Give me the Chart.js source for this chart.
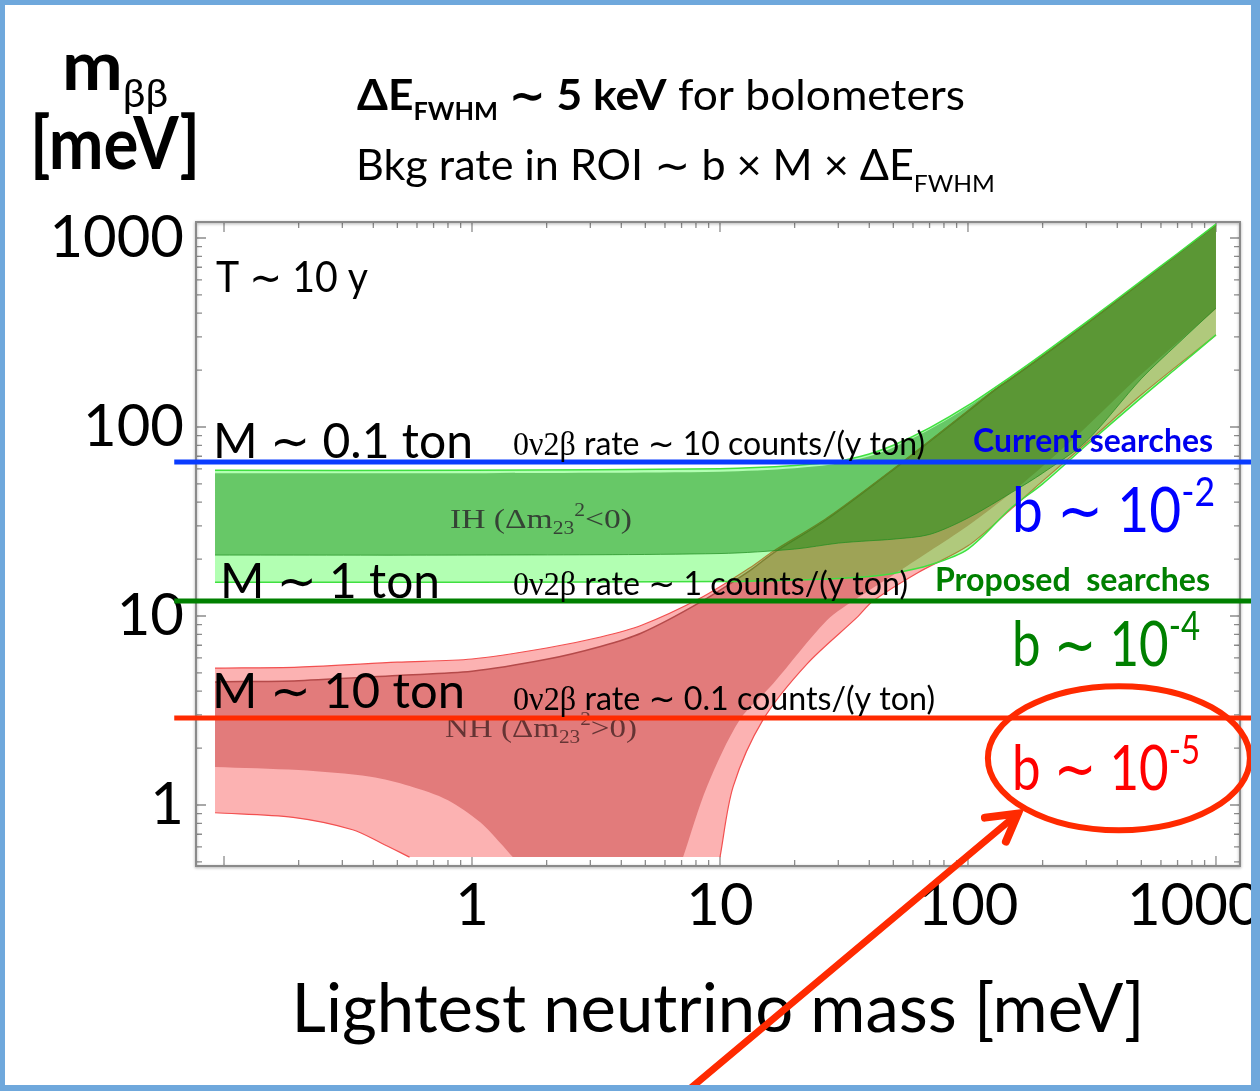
<!DOCTYPE html>
<html>
<head>
<meta charset="utf-8">
<script src="https://cdn.jsdelivr.net/npm/chart.js@4.4.1/dist/chart.umd.min.js"></script>
<style>
  html, body { margin: 0; padding: 0; background: #fff; }
  canvas { display: block; }
</style>
</head>
<body>
<canvas id="c" width="1260" height="1091"></canvas>
<script>
// m_bb [meV] vs lightest neutrino mass [meV]
const PLOT_FLOOR = 0.53; // bottom of the plotted range, bands are cut there

// inverted hierarchy (green)
const ihMass     = [0.092, 1, 10, 20, 30, 40, 50, 70, 100, 150, 200, 300, 500, 700, 1000];
const ihOuterUp  = [59, 59, 60.2, 62.5, 66, 72, 80, 99, 130, 186, 243, 359, 593, 828, 1183];
const ihInnerUp  = [57, 57, 58, 60.5, 64, 70, 78, 97, 128, 184, 241, 357, 591, 826, 1180];
const ihInnerLow = [21, 21, 21.4, 22.6, 24.3, 25, 25.5, 27, 33, 45, 57, 84, 180, 275, 426];
const ihOuterLow = [15.1, 15.1, 15.2, 15.5, 15.8, 16.2, 16.8, 18.6, 22.6, 37.5, 50, 80, 143, 207, 307];

// normal hierarchy (red)
const nhUpMass  = [0.092, 0.2, 0.5, 1, 2, 3.3, 4.8, 8.3, 13.2, 16.4, 27, 50, 100, 130, 150, 200, 300, 500, 1000];
const nhOuterUp = [5.3, 5.37, 5.7, 5.92, 6.77, 7.74, 8.9, 12.4, 18, 22, 33, 60, 122, 160, 182, 238, 352, 585, 1175];
const nhInnerUp = [4.48, 4.55, 4.85, 5.1, 5.9, 6.9, 8.1, 11.8, 17.4, 21.5, 32.5, 59.5, 121, 159, 181, 237, 351, 584, 1173];

const nhInLowMass = [0.092, 0.2, 0.39, 0.56, 0.8, 1.08, 1.3, 1.46, 7.1, 8.86, 12, 16.4, 27, 36, 50, 70, 100, 150, 200, 300, 500, 1000];
const nhInnerLow  = [1.59, 1.53, 1.41, 1.26, 1.06, 0.81, 0.63, PLOT_FLOOR, PLOT_FLOOR, 1.25, 2.82, 4.4, 9.5, 12.5, 16.5, 22, 30, 45, 62, 100, 190, 420];

const nhOutLowMass = [0.092, 0.19, 0.33, 0.43, 0.56, 10, 11.3, 14.9, 22.5, 35.6, 41.4, 63, 100, 150, 194, 300, 500, 1000];
const nhOuterLow   = [0.91, 0.86, 0.74, 0.63, PLOT_FLOOR, PLOT_FLOOR, 1.25, 2.82, 5.6, 9.8, 12, 17, 23.5, 37, 50, 82, 148, 307];

// sensitivity lines (M ~ 0.1 ton, 1 ton, 10 ton)
const lineMass  = [0.063, 1400];
const rateLines = [65.3, 12.0, 2.89];

const xTicks = [1, 10, 100, 1000];
const yTicks = [1, 10, 100, 1000];

const pts = (xs, ys) => xs.map((x, i) => ({ x: x, y: ys[i] }));
// doubled points keep corners sharp when the outline is smoothed
function sharp(list) {
  const out = [];
  list.forEach((p, i) => {
    out.push(p);
    if (i === 0 || i === list.length - 1 || p.y === PLOT_FLOOR) out.push({ x: p.x, y: p.y });
  });
  return out;
}
const band = (mu, up, ml, low) => sharp(pts(mu, up)).concat(sharp(pts(ml, low)).reverse());
// edge line without the stretch that lies on the floor
function edge(xs, ys) {
  const out = [];
  xs.forEach((x, i) => {
    out.push({ x: x, y: ys[i] });
    if (ys[i] === PLOT_FLOOR && ys[i + 1] === PLOT_FLOOR) out.push({ x: Math.sqrt(x * xs[i + 1]), y: null });
  });
  return out;
}

const sans = (px, bold) => (bold ? 'bold ' : '') + px + 'px Lato, "Noto Sans", "DejaVu Sans", sans-serif';
const serif = px => px + 'px "Liberation Serif", "DejaVu Serif", serif';
const T = '\u223c'; // wide tilde as on the slide

function runs(ctx, items, x, y, width, color) {
  let total = 0;
  for (const r of items) { ctx.font = r.font; r.w = ctx.measureText(r.t).width; total += r.w; }
  const sx = width ? width / total : 1;
  ctx.save();
  ctx.translate(x, y);
  ctx.scale(sx, 1);
  ctx.textAlign = 'left';
  ctx.textBaseline = 'alphabetic';
  let cx = 0;
  for (const r of items) {
    ctx.font = r.font;
    ctx.fillStyle = r.color || color || '#000';
    ctx.fillText(r.t, cx, r.dy || 0);
    cx += r.w;
  }
  ctx.restore();
}

function fillSet(data, color, order) {
  return { data: data, fill: 'shape', backgroundColor: color, borderWidth: 0, borderColor: 'transparent', pointRadius: 0, tension: 0.3, order: order };
}
function edgeSet(data, color, width, order) {
  return { data: data, fill: false, borderColor: color, borderWidth: width, pointRadius: 0, tension: 0.3, spanGaps: false, order: order };
}
function rateSet(v, color, order, id) {
  return { id: id, data: pts(lineMass, [v, v]), fill: false, borderColor: color, borderWidth: 5, pointRadius: 0, clip: false, order: order };
}

const frame = {
  id: 'frame',
  beforeDatasetsDraw(chart) {
    const { ctx, chartArea: a, scales: { x, y } } = chart;
    ctx.save();
    ctx.strokeStyle = '#8c8c8c';
    ctx.lineWidth = 1.3;
    ctx.beginPath();
    for (let d = -1; d <= 3; d++) {
      for (let k = 1; k <= 9; k++) {
        const v = k * Math.pow(10, d);
        if (v < x.min || v > x.max) continue;
        const px = x.getPixelForValue(v), len = k === 1 ? 10 : 6;
        ctx.moveTo(px, a.bottom); ctx.lineTo(px, a.bottom - len);
        ctx.moveTo(px, a.top); ctx.lineTo(px, a.top + len);
      }
    }
    for (let d = -1; d <= 3; d++) {
      for (let k = 1; k <= 9; k++) {
        const v = k * Math.pow(10, d);
        if (v < y.min || v > y.max) continue;
        const py = y.getPixelForValue(v), len = k === 1 ? 10 : 6;
        ctx.moveTo(a.left, py); ctx.lineTo(a.left + len, py);
        ctx.moveTo(a.right, py); ctx.lineTo(a.right - len, py);
      }
    }
    ctx.stroke();
    ctx.shadowColor = 'rgba(0,0,0,0.35)';
    ctx.shadowBlur = 3;
    ctx.shadowOffsetY = 1;
    ctx.strokeStyle = '#8a8a8a';
    ctx.lineWidth = 2;
    ctx.strokeRect(a.left, a.top, a.right - a.left, a.bottom - a.top);
    ctx.restore();
  },
  beforeDatasetDraw(chart, args) {
    if (chart.data.datasets[args.index].id !== 'blue') return;
    const ctx = chart.ctx;
    runs(ctx, [{ t: 'IH (\u0394m', font: serif(28) }, { t: '23', font: serif(18), dy: 6 },
      { t: '2', font: serif(18), dy: -12 }, { t: '<0)', font: serif(28) }], 450, 528, 182, 'rgba(45,45,45,0.85)');
    runs(ctx, [{ t: 'NH (\u0394m', font: serif(28) }, { t: '23', font: serif(18), dy: 6 },
      { t: '2', font: serif(18), dy: -12 }, { t: '>0)', font: serif(28) }], 445, 737, 192, 'rgba(70,35,35,0.8)');
  },
  afterDraw(chart) {
    const { ctx, scales: { x, y } } = chart;
    const yb = y.getPixelForValue(rateLines[0]);
    const yg = y.getPixelForValue(rateLines[1]);
    const yr = y.getPixelForValue(rateLines[2]);

    runs(ctx, [{ t: 'm', font: sans(68, true) }, { t: '\u03b2\u03b2', font: sans(38), dy: 17 }], 62, 90, 106);
    runs(ctx, [{ t: '[meV]', font: sans(72, true) }], 30, 169, 170);
    runs(ctx, [{ t: '\u0394E', font: sans(42, true) }, { t: 'FWHM', font: sans(24, true), dy: 10 },
      { t: ' ' + T + ' 5 keV', font: sans(42, true) }, { t: ' for bolometers', font: sans(42) }], 357, 110, 608);
    runs(ctx, [{ t: 'Bkg rate in ROI ' + T + ' b \u00d7 M \u00d7 \u0394E', font: sans(42) }, { t: 'FWHM', font: sans(24), dy: 12 }], 356, 180, 639);
    runs(ctx, [{ t: 'T ' + T + ' 10 y', font: sans(42) }], 216, 292, 152);

    const rate = s => [{ t: '0\u03bd2\u03b2', font: serif(33) }, { t: ' rate ' + T + ' ' + s + ' counts/(y ton)', font: sans(33) }];
    runs(ctx, [{ t: 'M ' + T + ' 0.1 ton', font: sans(49) }], 213, yb - 4, 260);
    runs(ctx, rate('10'), 513, yb - 7, 412);
    runs(ctx, [{ t: 'Current searches', font: sans(33, true) }], 973, yb - 10, 240, '#0000ee');
    runs(ctx, [{ t: 'b ' + T + ' 10', font: sans(62) }, { t: '-2', font: sans(40), dy: -26 }], 1012, yb + 70, 203, '#0000ff');

    runs(ctx, [{ t: 'M ' + T + ' 1 ton', font: sans(49) }], 220, yg - 3, 220);
    runs(ctx, rate('1'), 513, yg - 6, 395);
    runs(ctx, [{ t: 'Proposed  searches', font: sans(32, true) }], 935, yg - 10, 275, '#008000');
    runs(ctx, [{ t: 'b ' + T + ' 10', font: sans(62) }, { t: '-4', font: sans(40), dy: -26 }], 1012, yg + 65, 188, '#008000');

    runs(ctx, [{ t: 'M ' + T + ' 10 ton', font: sans(49) }], 212, yr - 10, 253);
    runs(ctx, rate('0.1'), 513, yr - 8, 422);
    runs(ctx, [{ t: 'b ' + T + ' 10', font: sans(62) }, { t: '-5', font: sans(40), dy: -26 }], 1012, yr + 72, 188, '#ff0000');

    // red ellipse and arrow pointing at b ~ 10^-5
    ctx.save();
    ctx.strokeStyle = '#ff2a00';
    ctx.lineWidth = 6;
    ctx.beginPath();
    ctx.ellipse(x.getPixelForValue(406), y.getPixelForValue(1.77), 131, 72, 0, 0, Math.PI * 2);
    ctx.stroke();
    const ax0 = x.getPixelForValue(6.9), ay0 = y.getPixelForValue(0.0285);
    const ax1 = x.getPixelForValue(159), ay1 = y.getPixelForValue(0.9);
    ctx.lineWidth = 7;
    ctx.lineCap = 'round';
    ctx.beginPath();
    ctx.moveTo(ax0, ay0);
    ctx.lineTo(ax1, ay1);
    ctx.stroke();
    ctx.lineWidth = 8;
    ctx.beginPath();
    ctx.moveTo(ax1 - 33, ay1 + 4);
    ctx.lineTo(ax1, ay1);
    ctx.lineTo(ax1 - 12, ay1 + 28);
    ctx.stroke();
    ctx.restore();

    // slide border
    ctx.fillStyle = '#6fa8dc';
    ctx.fillRect(0, 0, 5, 1091);
    ctx.fillRect(0, 0, 1260, 5);
    ctx.fillRect(1251, 0, 9, 1091);
    ctx.fillRect(0, 1085, 1260, 6);
  }
};

new Chart(document.getElementById('c'), {
  type: 'line',
  data: {
    datasets: [
      fillSet(band(nhUpMass, nhOuterUp, nhOutLowMass, nhOuterLow), '#fcb2b2', 20),
      fillSet(band(nhUpMass, nhInnerUp, nhInLowMass, nhInnerLow), '#e27b7b', 19),
      edgeSet(edge(nhUpMass, nhOuterUp), '#f25050', 1.2, 18),
      edgeSet(edge(nhOutLowMass, nhOuterLow), '#f25050', 1.2, 18),
      edgeSet(edge(nhUpMass, nhInnerUp), '#b54a4a', 1.5, 18),
      fillSet(band(ihMass, ihOuterUp, ihMass, ihOuterLow), 'rgba(0,255,0,0.3)', 15),
      fillSet(band(ihMass, ihInnerUp, ihMass, ihInnerLow), 'rgba(16,138,16,0.47)', 14),
      edgeSet(edge(ihMass, ihOuterUp), '#40e040', 1.5, 13),
      edgeSet(edge(ihMass, ihOuterLow), '#40e040', 1.5, 13),
      edgeSet(edge(ihMass, ihInnerLow), 'rgba(30,140,30,0.7)', 1, 13),
      rateSet(rateLines[0], '#0a3cff', 3, 'blue'),
      rateSet(rateLines[1], '#008000', 2, 'green'),
      rateSet(rateLines[2], '#ff2a00', 1, 'red')
    ]
  },
  options: {
    responsive: false,
    animation: false,
    devicePixelRatio: 1,
    layout: { padding: { left: 0, top: 222, right: 20, bottom: 0 }, autoPadding: false },
    plugins: { legend: { display: false }, tooltip: { enabled: false } },
    scales: {
      x: {
        type: 'logarithmic',
        min: 0.0771, max: 1250,
        grid: { display: false, drawTicks: false },
        border: { display: false },
        afterBuildTicks: axis => { axis.ticks = xTicks.map(v => ({ value: v })); },
        afterFit: s => { s.height = 225; s.paddingLeft = 0; s.paddingRight = 0; },
        ticks: { autoSkip: false, maxRotation: 0, padding: 5, color: '#000',
          font: { family: 'Lato, "Noto Sans", sans-serif', size: 58 },
          callback: v => v === 1000 ? '1000\u2003' : String(v) },
        title: { display: true, text: 'Lightest neutrino mass [meV]', color: '#000',
          font: { family: 'Lato, "Noto Sans", sans-serif', size: 67 }, padding: { top: 0, bottom: 40 } }
      },
      y: {
        type: 'logarithmic',
        min: 0.4756, max: 1215,
        grid: { display: false, drawTicks: false },
        border: { display: false },
        afterBuildTicks: axis => { axis.ticks = yTicks.map(v => ({ value: v })); },
        afterFit: s => { s.width = 196; s.paddingTop = 0; s.paddingBottom = 0; },
        ticks: { autoSkip: false, padding: 12, color: '#000',
          font: { family: 'Lato, "Noto Sans", sans-serif', size: 58 }, callback: v => String(v) }
      }
    }
  },
  plugins: [frame]
});
</script>
</body>
</html>
